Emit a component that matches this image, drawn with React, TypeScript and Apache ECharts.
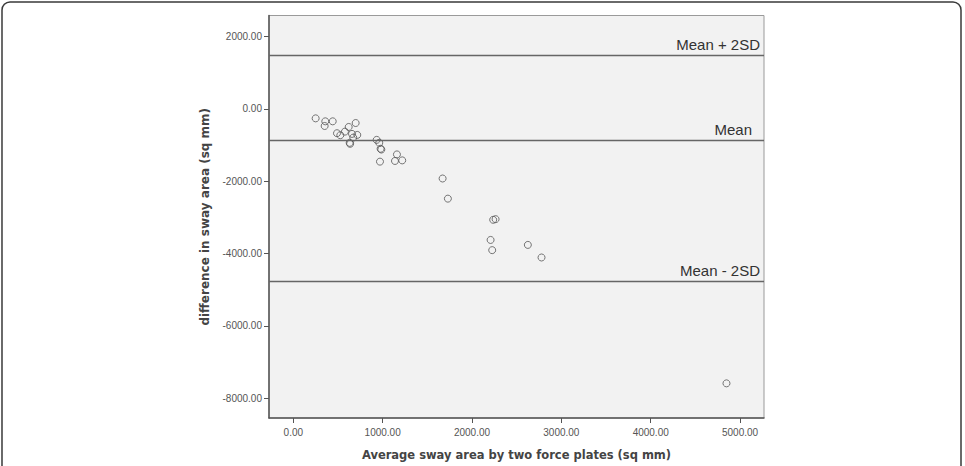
import React, { useEffect, useRef } from "react";
import * as echarts from "echarts";

const averageArea: number[] = [
  250, 358, 351, 441, 489, 526, 578, 620, 698, 657, 716, 671, 631, 636,
  933, 962, 977, 985, 970, 1160, 1138, 1219, 1671, 1730, 2237, 2264,
  2208, 2226, 2625, 2778, 4848,
];
const differenceArea: number[] = [
  -263, -345, -474, -345, -674, -729, -630, -501, -392, -693, -721, -795, -940, -967,
  -858, -940, -1104, -1125, -1460, -1260, -1441, -1425, -1926, -2483, -3068, -3050,
  -3625, -3907, -3762, -4110, -7590,
];
const refNames: string[] = ["Mean + 2SD", "Mean", "Mean - 2SD"];
const refValues: number[] = [1480, -857, -4759];
const xTicks: number[] = [0, 1000, 2000, 3000, 4000, 5000];
const yTicks: number[] = [-8000, -6000, -4000, -2000, 0, 2000];

export default function App() {
  const ref = useRef<HTMLDivElement>(null);
  useEffect(() => {
    document.body.style.margin = "0";
    if (!ref.current) return;
    const chart = echarts.init(ref.current, null, { renderer: "svg" });
    const points = averageArea.map((x, i) => [x, differenceArea[i]]);
    chart.setOption({
      animation: false,
      backgroundColor: "#ffffff",
      graphic: [
        {
          type: "rect",
          shape: { x: 2, y: 2, width: 959, height: 490, r: 8 },
          style: { fill: "none", stroke: "#3a3a3a", lineWidth: 1.5 },
          silent: true,
        },
      ],
      grid: {
        left: 269,
        top: 15.5,
        right: 201,
        bottom: 43.3,
        show: true,
        backgroundColor: "#f2f2f2",
        borderColor: "#9a9a9a",
        borderWidth: 1,
      },
      xAxis: {
        type: "value",
        min: -272,
        max: 5268,
        name: "Average sway area by two force plates (sq mm)",
        nameLocation: "middle",
        nameGap: 31,
        nameTextStyle: {
          fontFamily: "DejaVu Sans",
          fontWeight: "bold",
          fontSize: 11.5,
          color: "#444",
        },
        axisLine: { show: true, onZero: false, lineStyle: { color: "#555", width: 1.5 } },
        axisTick: {
          show: true,
          customValues: xTicks,
          length: 5,
          lineStyle: { color: "#555" },
        },
        axisLabel: {
          customValues: xTicks,
          margin: 9,
          fontFamily: "Liberation Sans",
          fontSize: 10,
          color: "#555",
          formatter: (v: number) => v.toFixed(2),
        },
        splitLine: { show: false },
      },
      yAxis: {
        type: "value",
        min: -8548,
        max: 2581,
        name: "difference in sway area (sq mm)",
        nameLocation: "middle",
        nameGap: 58,
        nameTextStyle: {
          fontFamily: "DejaVu Sans",
          fontWeight: "bold",
          fontSize: 12,
          color: "#444",
        },
        axisLine: { show: true, onZero: false, lineStyle: { color: "#555", width: 1.5 } },
        axisTick: {
          show: true,
          customValues: yTicks,
          length: 5,
          lineStyle: { color: "#555" },
        },
        axisLabel: {
          customValues: yTicks,
          margin: 7,
          fontFamily: "Liberation Sans",
          fontSize: 10,
          color: "#555",
          formatter: (v: number) => v.toFixed(2),
        },
        splitLine: { show: false },
      },
      series: [
        {
          type: "scatter",
          data: points,
          symbol: "circle",
          symbolSize: 7,
          itemStyle: { color: "transparent", borderColor: "#555", borderWidth: 1 },
          markLine: {
            silent: true,
            symbol: "none",
            lineStyle: { color: "#666", width: 1.3, type: "solid" },
            label: {
              show: true,
              position: "insideEndTop",
              fontFamily: "Liberation Sans",
              fontSize: 15,
              color: "#333",
              distance: [4, 3],
            },
            data: refValues.map((v, i) => ({
              yAxis: v,
              label: {
                formatter: refNames[i],
                distance: i === 1 ? [12, 3] : [4, 3],
              },
            })),
          },
        },
      ],
    });
    return () => chart.dispose();
  }, []);
  return <div ref={ref} style={{ width: 965, height: 466 }} />;
}
